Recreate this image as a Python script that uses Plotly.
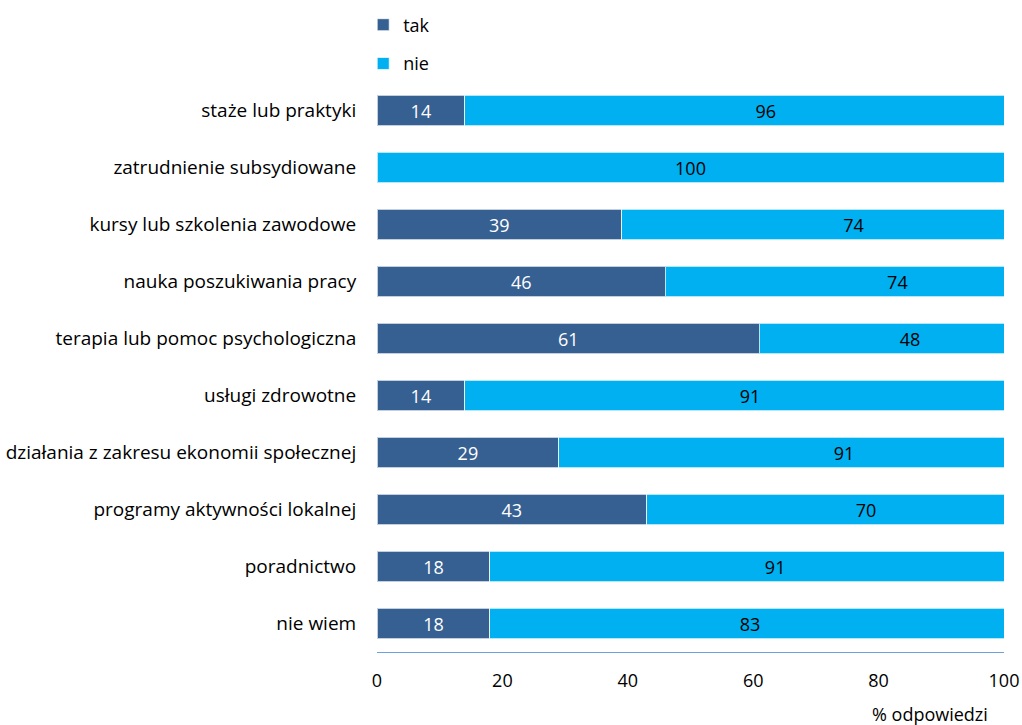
import plotly.graph_objects as go

categories = [
    "staże lub praktyki",
    "zatrudnienie subsydiowane",
    "kursy lub szkolenia zawodowe",
    "nauka poszukiwania pracy",
    "terapia lub pomoc psychologiczna",
    "usługi zdrowotne",
    "działania z zakresu ekonomii społecznej",
    "programy aktywności lokalnej",
    "poradnictwo",
    "nie wiem",
]
tak = [14, 0, 39, 46, 61, 14, 29, 43, 18, 18]
nie = [96, 100, 74, 74, 48, 91, 91, 70, 91, 83]
x_ticks = [0, 20, 40, 60, 80, 100]

FONT = "Open Sans"
FS = 18
fig = go.Figure()
fig.add_trace(go.Bar(
    y=categories, x=tak, orientation="h", name="tak", showlegend=True,
    marker=dict(color="#376092", line=dict(color="rgba(255,255,255,0.7)", width=1)),
    text=[str(v) if v else "" for v in tak], textposition="inside",
    insidetextanchor="middle", textangle=0,
    textfont=dict(color="white", size=FS, family=FONT),
    legend="legend",
))
fig.add_trace(go.Bar(
    y=categories, x=nie, orientation="h", name="nie", showlegend=True,
    marker=dict(color="#00B0F0", line=dict(color="rgba(255,255,255,0.7)", width=1)),
    text=[str(v) for v in nie], textposition="inside",
    insidetextanchor="middle", textangle=0,
    textfont=dict(color="black", size=FS, family=FONT),
    legend="legend2",
))

fig.update_layout(
    barmode="stack",
    bargap=0.46,
    showlegend=True,
    width=1022, height=725,
    margin=dict(l=377, r=18, t=82, b=73, autoexpand=False),
    paper_bgcolor="white", plot_bgcolor="white",
    font=dict(family=FONT, size=FS, color="black"),
    uniformtext=dict(minsize=FS, mode="show"),
    legend=dict(x=-0.022, y=1.1, xanchor="left", yanchor="middle", visible=True,
                font=dict(size=FS, family=FONT), bgcolor="rgba(0,0,0,0)"),
    legend2=dict(x=-0.022, y=1.032, xanchor="left", yanchor="middle", visible=True,
                 font=dict(size=FS, family=FONT), bgcolor="rgba(0,0,0,0)"),
    xaxis=dict(range=[0, 100], tickvals=x_ticks, showgrid=False, zeroline=False,
               showline=True, linecolor="#6FA0D8", linewidth=1, automargin=False,
               ticks="outside", ticklen=0, ticklabelstandoff=12,
               tickfont=dict(size=FS, family=FONT)),
    yaxis=dict(categoryorder="array", categoryarray=categories, autorange="reversed",
               showgrid=False, zeroline=False, showline=False, automargin=False,
               ticks="outside", ticklen=0, ticklabelstandoff=16,
               tickfont=dict(size=19, family=FONT)),
    annotations=[dict(text="% odpowiedzi", xref="paper", yref="paper",
                      x=0.882, y=-0.109, xanchor="center", yanchor="middle",
                      showarrow=False, font=dict(size=FS, family=FONT))],
)
fig.write_html("out.html")
